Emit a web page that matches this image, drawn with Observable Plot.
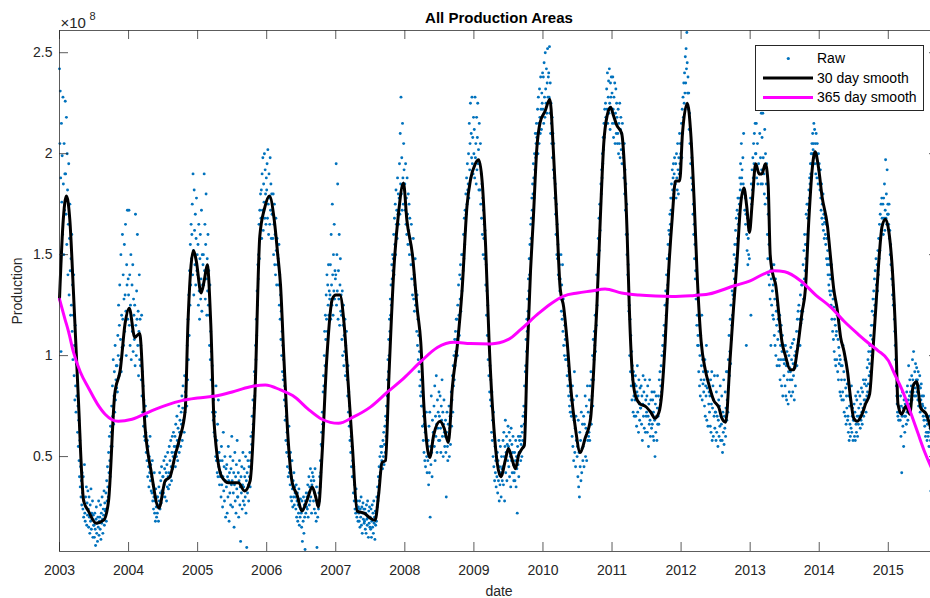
<!DOCTYPE html>
<html><head><meta charset="utf-8">
<script src="https://cdn.jsdelivr.net/npm/d3@7"></script>
<script src="https://cdn.jsdelivr.net/npm/@observablehq/plot@0.6"></script>
<style>
html,body{margin:0;padding:0;background:#fff;overflow:hidden;}
#wrap{position:relative;width:930px;height:598px;overflow:hidden;font-family:"Liberation Sans",Arial,sans-serif;}
#wrap svg{max-width:none;}
#legend{position:absolute;left:755px;top:45px;}
</style></head><body><div id="wrap"></div>
<script>
// ---- axis ticks ----
const years = [2003,2004,2005,2006,2007,2008,2009,2010,2011,2012,2013,2014,2015];
const yTicks = [50,100,150,200,250];              // units of 1e6
const yTickLabels = ["0.5","1","1.5","2","2.5"];  // shown with the x10^8 exponent

// ---- raw production, one value every ~2 days (15 per month), units 1e6 ----
const raw2003 = [242,205,231,188,102,215,176,199,160,228,185,150,205,172,190, 226,190,170,218,155,200,182,140,165,195,130,158,175,142,120, 148,125,160,112,135,98,120,140,90,105,78,115,85,72,96, 80,95,62,75,55,68,48,40,58,35,45,30,38,26,42, 32,24,40,20,28,46,22,18,30,25,35,16,27,21,33, 24,15,30,20,12,26,18,34,14,22,19,28,10,21,16, 16,10,22,14,6,19,25,12,17,8,20,15,28,11,18, 20,14,26,9,22,17,30,19,12,24,21,33,16,27,23, 24,32,18,38,28,45,35,30,52,42,60,48,40,65,55, 62,75,55,85,70,98,66,80,92,72,105,78,88,95,84, 95,82,110,100,125,90,115,135,98,108,150,92,120,104,160, 118,140,105,128,155,112,130,165,122,100,145,135,172,118,138];
const raw2004 = [130,172,115,140,105,125,150,98,118,135,112,145,102,128,120, 108,125,95,170,115,100,132,118,160,105,122,90,112,140,98, 118,95,105,88,120,80,92,72,85,65,78,60,70,58,75, 62,52,70,48,58,40,55,45,35,50,42,60,38,46,33, 40,32,48,28,36,24,30,42,22,28,18,34,25,20,30, 22,30,26,18,35,28,42,24,32,38,27,45,33,30,40, 40,32,48,36,44,30,50,38,42,28,46,35,52,40,34, 42,55,36,48,40,58,45,38,52,60,44,50,62,47,55, 52,60,45,66,55,50,70,58,48,64,56,75,52,62,68, 62,55,72,66,80,58,74,85,68,78,62,90,72,82,76, 80,92,75,105,88,118,98,130,110,142,125,155,135,165,148, 160,175,140,190,152,130,182,162,145,170,135,158,178,142,150];
const raw2005 = [140,155,125,165,132,118,148,160,128,138,172,122,150,135,145, 150,135,190,142,165,128,155,180,138,120,148,132,160,125,142, 120,105,135,98,112,88,102,80,95,72,85,68,78,62,70, 60,72,50,85,48,58,42,66,40,78,45,52,36,48,40, 42,30,55,36,48,25,40,62,33,45,28,50,38,20,44, 35,46,22,40,30,55,38,18,42,32,50,26,44,36,60, 38,25,48,32,42,15,36,52,28,40,22,46,34,58,30, 30,42,20,38,48,26,35,8,40,32,45,24,36,52,28, 35,44,26,40,30,50,22,38,5,42,32,48,36,28,45, 40,52,35,48,60,44,56,70,62,78,66,85,74,92,80, 90,105,98,118,110,132,125,145,138,150,165,148,172,158,180, 168,182,158,190,172,198,162,185,176,200,168,192,180,165,188];
const raw2006 = [182,195,168,202,175,160,190,178,165,198,172,185,158,180,170, 170,158,180,150,165,175,145,160,140,168,152,135,158,145,150, 148,135,155,125,140,118,130,108,122,100,112,92,105,88,98, 90,78,85,68,75,58,70,52,62,45,56,40,50,65,42, 44,36,52,30,40,28,48,34,25,38,30,42,26,35,32, 30,24,36,20,28,32,18,26,22,34,16,25,20,29,24, 22,15,28,8,24,18,30,12,26,20,4,28,22,32,25, 30,24,36,20,32,40,26,35,28,44,30,38,22,36,42, 34,40,28,38,24,32,44,22,30,18,35,5,26,20,28, 24,32,28,40,35,48,42,56,62,55,72,66,82,90,85, 100,112,95,120,108,130,118,140,112,135,125,145,120,132,128, 130,145,118,160,135,125,175,140,120,150,132,165,128,142,138];
const raw2007 = [140,195,125,150,132,185,118,142,128,160,115,135,148,122,130, 120,108,132,100,115,125,95,110,102,118,90,105,98,112,92, 88,80,95,72,82,65,75,58,68,52,60,45,55,40,48, 40,32,45,28,36,24,30,22,34,26,20,28,24,18,25, 22,18,28,15,24,20,30,16,25,12,22,27,19,24,17, 18,24,14,22,12,26,19,16,28,20,10,23,17,25,15, 20,14,24,10,18,26,15,22,12,28,17,20,9,23,16, 22,18,30,25,35,28,40,32,45,38,50,42,55,46,52, 48,55,44,58,50,62,46,56,65,52,70,60,75,68,80, 88,98,92,108,100,118,112,128,120,135,125,145,138,150,142, 148,160,140,168,155,175,150,182,165,172,158,188,170,180,165, 178,195,170,210,185,228,180,198,172,215,188,175,205,192,182];
const raw2008 = [185,172,195,165,178,160,188,170,155,180,162,175,150,168,158, 155,145,165,138,150,130,145,158,128,140,122,135,148,125,132, 125,112,130,105,118,98,110,92,102,85,96,80,88,75,82, 75,65,82,58,70,52,66,48,62,45,58,72,50,42,55, 48,58,36,65,42,72,20,55,46,80,52,40,68,58,62, 62,75,55,85,48,70,60,90,66,52,78,64,72,58,82, 70,58,80,64,52,75,68,88,60,72,50,66,78,62,55, 60,68,52,30,62,72,55,48,66,58,75,50,64,70,56, 70,82,65,78,90,72,95,85,100,88,108,95,112,102,118, 108,118,100,125,112,135,120,110,140,128,145,122,138,150,132, 138,150,142,160,148,168,155,172,162,180,170,188,175,195,182, 185,200,178,215,192,205,225,188,210,198,228,195,208,190,218];
const raw2009 = [200,212,188,228,198,205,185,218,192,208,225,195,202,182,215, 195,182,205,175,190,168,185,160,178,150,172,158,165,148,162, 150,135,145,120,132,110,125,98,115,90,105,82,95,78,88, 75,62,82,58,68,50,72,45,60,38,55,42,48,35,50, 40,52,32,48,38,58,28,45,36,55,42,30,50,44,38, 45,58,36,62,50,28,55,68,42,52,60,38,56,48,65, 55,45,62,40,58,50,35,64,48,56,42,52,60,46,38, 42,52,38,48,58,35,50,44,22,55,46,60,40,52,58, 52,60,48,56,65,50,62,58,70,55,75,66,85,72,92, 95,108,102,118,112,128,122,138,132,148,140,155,148,165,158, 168,178,172,185,180,195,188,178,200,192,210,198,205,215,208, 210,222,200,228,215,205,232,218,210,238,222,212,230,225,240];
const raw2010 = [222,238,215,245,228,218,250,232,225,242,220,235,252,228,238, 240,228,253,220,235,210,225,215,205,218,198,210,192,205,188, 190,178,185,170,160,175,150,165,148,155,140,150,138,145,132, 138,128,150,122,135,118,145,112,128,105,120,100,115,108,98, 110,98,105,90,100,85,95,80,92,75,88,72,82,78,70, 72,60,85,55,78,48,68,92,52,64,45,70,58,80,50, 55,40,68,35,52,30,62,45,58,38,72,42,54,66,48, 55,70,45,66,58,80,50,64,75,48,62,85,58,72,60, 62,78,58,85,70,92,66,88,80,100,75,108,88,98,112, 105,120,102,132,115,140,125,150,132,158,145,168,152,175,162, 175,185,180,192,188,200,195,208,202,215,208,222,215,225,218, 218,232,222,240,215,228,236,220,242,225,212,235,228,238,222];
const raw2011 = [230,215,238,222,208,228,215,235,205,220,232,210,225,218,205, 210,222,200,215,205,225,198,212,218,202,210,195,215,205,200, 198,188,205,180,192,172,185,160,175,150,160,140,145,130,122, 125,100,118,92,110,85,102,78,95,88,72,92,80,70,86, 78,90,70,85,65,82,95,72,80,62,88,76,68,84,74, 74,85,66,80,58,76,90,70,82,64,75,88,62,78,70, 72,80,62,85,70,55,76,66,88,68,60,78,72,64,82, 66,78,60,72,58,82,68,50,76,62,80,70,58,74,66, 70,80,66,88,74,92,78,85,95,82,100,88,105,92,110, 102,115,105,125,112,132,120,140,126,148,135,155,142,162,150, 160,170,165,178,172,185,178,192,182,188,195,180,190,198,186, 185,195,178,200,188,182,205,192,180,198,190,210,195,205,200];
const raw2012 = [205,215,198,222,210,228,218,235,225,240,230,248,235,252,242, 260,245,230,238,222,230,212,220,205,212,195,205,188,198,182, 185,170,175,160,165,148,155,138,142,128,130,115,120,105,110, 105,92,115,85,100,80,110,88,95,120,78,98,86,92,82, 88,75,98,70,85,80,105,68,84,92,65,88,76,82,72, 80,65,88,62,76,92,58,74,85,60,78,70,90,64,72, 72,58,82,62,70,90,55,68,78,60,75,65,85,58,70, 66,80,58,52,72,62,88,56,70,64,82,60,74,92,68, 78,92,72,98,85,110,90,102,118,96,125,108,115,132,120, 130,142,128,150,138,155,145,162,148,168,155,172,158,178,165, 170,178,175,188,182,195,185,205,188,192,180,198,185,210,182, 182,172,178,165,170,105,160,152,168,145,158,150,162,148,165];
const raw2013 = [165,178,120,185,175,192,182,198,188,205,195,210,192,215,200, 200,215,188,230,205,185,245,195,222,190,210,240,198,185,220, 192,208,185,220,198,235,190,180,212,175,200,225,185,195,178, 160,148,170,140,155,135,148,128,142,105,138,125,145,132,120, 135,118,145,110,128,105,138,100,122,115,95,125,108,118,98, 112,95,120,88,105,98,115,85,102,110,80,98,105,90,96, 98,85,105,80,95,78,102,88,96,76,92,100,82,94,88, 92,104,80,98,88,106,82,96,90,108,78,100,94,85,102, 100,112,95,118,105,122,108,125,112,118,105,130,116,122,135, 118,135,122,145,128,152,138,160,142,155,148,170,155,175,160, 168,175,172,182,178,188,185,195,190,200,195,205,200,210,202, 205,215,198,212,195,205,190,210,200,188,205,195,185,200,192];
const raw2014 = [195,188,182,192,178,172,185,168,175,165,180,162,170,158,166, 168,160,155,165,148,158,145,152,140,148,135,145,132,140,130, 138,125,145,118,132,112,128,108,124,102,118,98,115,95,110, 112,98,120,92,108,88,104,96,100,82,98,80,95,88,78, 95,82,105,78,92,72,88,98,70,84,66,80,74,86,68, 70,62,80,58,75,66,60,78,64,85,62,70,74,58,68, 68,76,60,72,58,80,66,62,78,70,60,82,66,74,70, 70,80,64,76,68,84,72,66,82,74,88,70,78,86,76, 78,88,72,85,80,94,82,98,86,102,90,96,105,92,110, 102,115,100,122,108,128,115,132,120,138,125,142,128,148,135, 135,145,132,152,140,158,148,165,152,170,158,175,162,178,168, 165,175,160,178,168,185,162,172,197,168,180,165,192,170,175];
const raw2015 = [170,165,175,158,162,150,155,145,148,138,142,130,135,125,128, 125,118,112,105,98,92,85,80,76,72,70,75,68,72,74, 72,68,80,60,75,42,70,82,65,74,55,78,70,62,76, 70,76,66,82,72,85,68,78,95,74,80,88,76,82,78, 85,90,78,98,88,82,102,86,80,92,84,96,80,88,94, 82,88,78,92,75,85,80,90,72,84,78,86,74,80,76, 75,70,80,68,72,65,74,60,70,62,68,58,66,62,60, 62,55,70,48,64,58,33];

// ---- 30 day smooth (decimal year, units 1e6) ----
const s30T = [2003.00,2003.05,2003.10,2003.15,2003.20,2003.27,2003.35,2003.42,2003.53,2003.64,2003.71,2003.80,2003.88,2003.95,2004.01,2004.09,2004.16,2004.24,2004.33,2004.44,2004.53,2004.60,2004.67,2004.74,2004.82,2004.86,2004.94,2004.98,2005.05,2005.10,2005.14,2005.19,2005.24,2005.35,2005.45,2005.59,2005.68,2005.76,2005.83,2005.90,2005.97,2006.04,2006.11,2006.16,2006.20,2006.25,2006.30,2006.37,2006.44,2006.51,2006.58,2006.66,2006.71,2006.75,2006.80,2006.87,2006.95,2007.00,2007.06,2007.12,2007.19,2007.24,2007.31,2007.41,2007.50,2007.57,2007.62,2007.67,2007.72,2007.77,2007.84,2007.91,2007.98,2008.03,2008.11,2008.18,2008.23,2008.28,2008.36,2008.42,2008.51,2008.57,2008.63,2008.69,2008.76,2008.83,2008.90,2008.95,2009.02,2009.07,2009.12,2009.17,2009.22,2009.29,2009.39,2009.46,2009.50,2009.55,2009.60,2009.65,2009.70,2009.73,2009.77,2009.82,2009.86,2009.91,2009.96,2010.03,2010.10,2010.15,2010.20,2010.25,2010.30,2010.35,2010.40,2010.47,2010.54,2010.61,2010.69,2010.73,2010.78,2010.83,2010.88,2010.93,2010.98,2011.02,2011.07,2011.14,2011.18,2011.22,2011.25,2011.29,2011.34,2011.41,2011.48,2011.56,2011.62,2011.68,2011.72,2011.77,2011.82,2011.87,2011.92,2011.98,2012.02,2012.09,2012.14,2012.19,2012.23,2012.29,2012.35,2012.40,2012.47,2012.55,2012.59,2012.645,2012.71,2012.76,2012.81,2012.86,2012.91,2012.95,2012.99,2013.03,2013.08,2013.13,2013.17,2013.22,2013.26,2013.29,2013.33,2013.37,2013.42,2013.46,2013.51,2013.58,2013.63,2013.68,2013.75,2013.80,2013.85,2013.90,2013.94,2013.99,2014.04,2014.12,2014.16,2014.21,2014.26,2014.31,2014.36,2014.41,2014.45,2014.50,2014.55,2014.62,2014.67,2014.73,2014.77,2014.82,2014.87,2014.91,2014.96,2015.01,2015.06,2015.11,2015.14,2015.19,2015.26,2015.31,2015.36,2015.41,2015.47,2015.55,2015.63];
const s30V = [128,165,179,167,133,81,28,23,17,18.5,28,81,93,116,123.5,109,111,64,42,24.5,38,40,50,59,73,116,152,147,131,138,145,116,66,40,37,37,33,38,81,159,173,179,167,150,135,98,64,37,31,23,28,35,30,25,50,98.5,128,130,130,116,81,55.5,23,22,19.5,18.5,31,47,48,90,142,171,185.5,167,150,123,107,73,49.5,61,67.5,64,57,85,105,133,174,187,195,197,186,154,107,64,40,49,54,49,44,51,54,55.5,98.5,142,167.5,202,215.6,221,227,202,167.5,133,124,107,85,64,52,59,69,90,124,167.5,205,219,223,219,214,210,193,159,124,93,80,76,75,72,69,72,81,107,142,167.5,186.5,186.5,210,225,210,176,142,107,93,86,78,74,69,67,98.5,124,147,174,183,174,161,176,195,190,190,195,185,150,140,135,119,107,100,93,93,102,121,133,167.5,193,201,193,179,164,150,133,123,109,102,92,80,69,67.5,71,76,81,98.5,124,150,164,167.5,161,142,107,76,71,75,71,85,87,74,71,62];

// ---- 365 day smooth (decimal year, units 1e6) ----
const s365T = [2003.00,2003.08,2003.13,2003.20,2003.30,2003.42,2003.55,2003.66,2003.85,2004.05,2004.34,2004.55,2004.77,2005.00,2005.26,2005.50,2005.75,2005.98,2006.20,2006.41,2006.60,2006.80,2007.04,2007.25,2007.50,2007.75,2007.99,2008.23,2008.47,2008.71,2008.95,2009.24,2009.50,2009.68,2009.94,2010.11,2010.30,2010.50,2010.70,2010.90,2011.14,2011.39,2011.63,2011.87,2012.14,2012.40,2012.77,2013.00,2013.20,2013.35,2013.50,2013.73,2013.95,2014.17,2014.36,2014.56,2014.72,2014.85,2015.00,2015.09,2015.20,2015.33,2015.43,2015.53,2015.63];
const s365V = [128,118,112,102,92,84,76,71,67.5,68.5,72.8,75.5,77.7,79,80,82,84.5,85.5,83,79.4,73.5,68.5,66.5,69.5,74.5,82,89,97,104,106.6,106,105.8,108,113,121,125.6,129.5,131,132,133,131,130,129.5,129.3,129.7,130.5,134.6,137,140.5,142,141.5,137.1,130,123.9,117,110.7,106,102.5,97.6,91,83,71.2,61.5,52,44];

// ---- build tables ----
const rawYears = [raw2003,raw2004,raw2005,raw2006,raw2007,raw2008,raw2009,raw2010,raw2011,raw2012,raw2013,raw2014,raw2015];
const raw = [];
rawYears.forEach((arr, k) => arr.forEach((v, i) => raw.push({t: years[k] + i / 180, v})));
const s30 = s30T.map((t, i) => ({t, v: s30V[i]}));
const s365 = s365T.map((t, i) => ({t, v: s365V[i]}));

const W = 938, H = 598, mT = 30, mB = 47, mL = 59, mR = 0;
const pH = H - mT - mB, pW = W - mL - mR;
const axisColor = "#262626";
const tick = 9;

const chart = Plot.plot({
  width: W, height: H,
  marginTop: mT, marginBottom: mB, marginLeft: mL, marginRight: mR,
  style: {fontFamily: "'Liberation Sans', Arial, sans-serif", fontSize: "14px", color: axisColor, background: "#fff", maxWidth: "none"},
  x: {type: "linear", domain: [2003, 2015.727], label: null},
  y: {domain: [3, 261], label: null},
  marks: [
    Plot.dot(raw, {x: "t", y: "v", r: 1.45, fill: "#0072BD", stroke: null}),
    Plot.line(s30, {x: "t", y: "v", stroke: "#000", strokeWidth: 3, curve: "monotone-x"}),
    Plot.line(s365, {x: "t", y: "v", stroke: "#FF00FF", strokeWidth: 3, curve: "monotone-x"}),
    Plot.frame({stroke: axisColor, strokeOpacity: 0.75}),
    Plot.ruleX(years, {stroke: axisColor, strokeOpacity: 0.75, insetTop: pH - tick}),
    Plot.ruleX(years, {stroke: axisColor, strokeOpacity: 0.75, insetBottom: pH - tick}),
    Plot.ruleY(yTicks, {stroke: axisColor, strokeOpacity: 0.75, insetRight: pW - tick}),
    Plot.ruleY(yTicks, {stroke: axisColor, strokeOpacity: 0.75, insetLeft: pW - tick}),
    Plot.axisX(years, {tickSize: 0, tickPadding: 14, tickFormat: d => String(d), fontSize: 14, label: null}),
    Plot.axisY(yTicks, {tickSize: 0, tickPadding: 7, tickFormat: d => yTickLabels[yTicks.indexOf(d)], fontSize: 14, label: null}),
    Plot.text(["All Production Areas"], {text: d => d, frameAnchor: "top", dy: -12, lineAnchor: "middle", fontWeight: "bold", fontSize: 15, fill: "#000"}),
    Plot.text(["date"], {text: d => d, frameAnchor: "bottom", dy: 40, lineAnchor: "middle", fontSize: 14, fill: axisColor}),
    Plot.text(["Production"], {text: d => d, frameAnchor: "left", dx: -42, rotate: -90, textAnchor: "middle", lineAnchor: "middle", fontSize: 14, fill: axisColor}),
    Plot.text(["\u00d710"], {text: d => d, frameAnchor: "top-left", dx: 1, dy: -3, textAnchor: "start", lineAnchor: "bottom", fontSize: 15, fill: axisColor}),
    Plot.text(["8"], {text: d => d, frameAnchor: "top-left", dx: 30, dy: -11, textAnchor: "start", lineAnchor: "bottom", fontSize: 11, fill: axisColor})
  ]
});
chart.style.maxWidth = "none";
const wrap = document.getElementById("wrap");
wrap.appendChild(chart);

// ---- legend ----
const legendItems = ["Raw", "30 day smooth", "365 day smooth"];
const legendColors = ["#0072BD", "#000", "#FF00FF"];
const ns = "http://www.w3.org/2000/svg";
const lg = document.createElementNS(ns, "svg");
lg.setAttribute("id", "legend"); lg.setAttribute("width", 169); lg.setAttribute("height", 67);
lg.innerHTML = `<rect x="0.5" y="0.5" width="168" height="65" fill="#fff" stroke="${axisColor}" stroke-width="1"/>
<circle cx="33.3" cy="13.5" r="1.6" fill="${legendColors[0]}"/>
<line x1="8" x2="58" y1="33" y2="33" stroke="${legendColors[1]}" stroke-width="3"/>
<line x1="8" x2="58" y1="52.5" y2="52.5" stroke="${legendColors[2]}" stroke-width="3"/>
<g font-family="'Liberation Sans', Arial, sans-serif" font-size="14" fill="#000">
<text x="62" y="13.5" dy="0.35em">${legendItems[0]}</text>
<text x="62" y="33" dy="0.35em">${legendItems[1]}</text>
<text x="62" y="52.5" dy="0.35em">${legendItems[2]}</text></g>`;
wrap.appendChild(lg);
</script></body></html>
